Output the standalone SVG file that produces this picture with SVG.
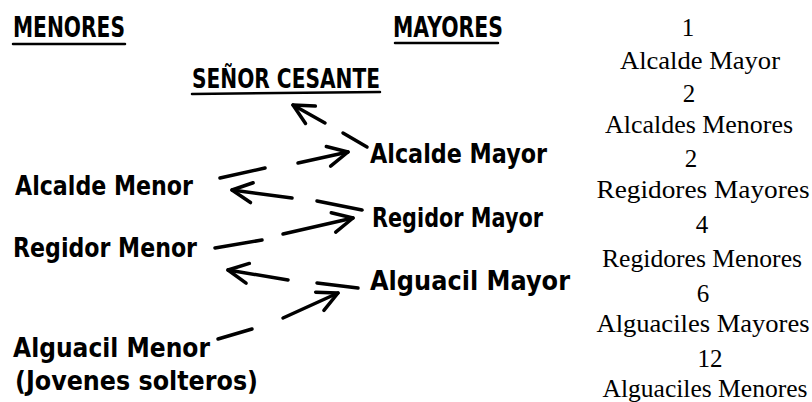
<svg xmlns="http://www.w3.org/2000/svg" width="812" height="402" viewBox="0 0 812 402">
<defs>
<marker id="ah" viewBox="0 0 26 26" refX="23" refY="13" markerWidth="26" markerHeight="26" markerUnits="userSpaceOnUse" orient="auto">
<path d="M3,3 L23,13 L3,23" fill="none" stroke="#000" stroke-width="3.5" stroke-linecap="round" stroke-linejoin="round"/>
</marker>
<style>
.h{font-family:"DejaVu Sans","Liberation Sans",sans-serif;font-weight:bold;fill:#000;}
.s{font-family:"Liberation Serif","DejaVu Serif",serif;font-size:25px;fill:#000;text-anchor:middle;}
.ln{stroke:#000;stroke-width:3.5;stroke-linecap:round;fill:none;}
.ul{stroke:#000;stroke-width:2.5;stroke-linecap:round;fill:none;}
.ar{stroke:#000;stroke-width:3.5;stroke-linecap:round;fill:none;marker-end:url(#ah);}
</style>
</defs>
<rect width="812" height="402" fill="#fff"/>
<g id="head-menores">
<text class="h" x="13" y="37" font-size="28" textLength="112" lengthAdjust="spacingAndGlyphs">MENORES</text>
<line class="ul" x1="13" y1="44" x2="125" y2="44"/>
</g>
<g id="head-mayores">
<text class="h" x="393" y="37" font-size="28" textLength="110" lengthAdjust="spacingAndGlyphs">MAYORES</text>
<line class="ul" x1="395" y1="43" x2="498" y2="43"/>
</g>
<g id="senor-cesante">
<text class="h" x="192" y="88" font-size="27" textLength="188" lengthAdjust="spacingAndGlyphs">SEÑOR CESANTE</text>
<line class="ul" x1="192" y1="94" x2="380" y2="92"/>
</g>
<g id="alcalde-menor">
<text class="h" x="15" y="195" font-size="26" textLength="178" lengthAdjust="spacingAndGlyphs">Alcalde Menor</text>
</g>
<g id="regidor-menor">
<text class="h" x="13" y="257" font-size="26" textLength="184" lengthAdjust="spacingAndGlyphs">Regidor Menor</text>
</g>
<g id="alguacil-menor">
<text class="h" x="13" y="357" font-size="26" textLength="197" lengthAdjust="spacingAndGlyphs">Alguacil Menor</text>
<text class="h" x="15" y="390" font-size="26" textLength="243" lengthAdjust="spacingAndGlyphs">(Jovenes solteros)</text>
</g>
<g id="alcalde-mayor">
<text class="h" x="370" y="163" font-size="26" textLength="177" lengthAdjust="spacingAndGlyphs">Alcalde Mayor</text>
</g>
<g id="regidor-mayor">
<text class="h" x="372" y="227" font-size="26" textLength="171" lengthAdjust="spacingAndGlyphs">Regidor Mayor</text>
</g>
<g id="alguacil-mayor">
<text class="h" x="370" y="290" font-size="26" textLength="200" lengthAdjust="spacingAndGlyphs">Alguacil Mayor</text>
</g>
<g id="connectors">
<line class="ln" x1="343" y1="133" x2="367" y2="147"/>
<line class="ar" x1="325" y1="123" x2="293" y2="105"/>
<line class="ln" x1="220" y1="178" x2="265" y2="168"/>
<line class="ar" x1="298" y1="163" x2="348" y2="152"/>
<line class="ln" x1="317" y1="201" x2="362" y2="210"/>
<line class="ar" x1="292" y1="198" x2="232" y2="190"/>
<line class="ln" x1="215" y1="248" x2="262" y2="240"/>
<line class="ar" x1="283" y1="234" x2="353" y2="218"/>
<line class="ln" x1="317" y1="283" x2="358" y2="288"/>
<line class="ar" x1="288" y1="280" x2="228" y2="270"/>
<line class="ln" x1="218" y1="339" x2="252" y2="329"/>
<line class="ar" x1="283" y1="318" x2="338" y2="293"/>
</g>
<g id="counts">
<text class="s" x="688" y="36">1</text>
<text class="s" x="700" y="69" textLength="160" lengthAdjust="spacingAndGlyphs">Alcalde Mayor</text>
<text class="s" x="689" y="102">2</text>
<text class="s" x="699" y="133" textLength="188" lengthAdjust="spacingAndGlyphs">Alcaldes Menores</text>
<text class="s" x="691" y="167">2</text>
<text class="s" x="703" y="198" textLength="213" lengthAdjust="spacingAndGlyphs">Regidores Mayores</text>
<text class="s" x="702" y="233">4</text>
<text class="s" x="702" y="267" textLength="200" lengthAdjust="spacingAndGlyphs">Regidores Menores</text>
<text class="s" x="703" y="302">6</text>
<text class="s" x="703" y="332" textLength="213" lengthAdjust="spacingAndGlyphs">Alguaciles Mayores</text>
<text class="s" x="710" y="367">12</text>
<text class="s" x="705" y="397" textLength="205" lengthAdjust="spacingAndGlyphs">Alguaciles Menores</text>
</g>
</svg>
